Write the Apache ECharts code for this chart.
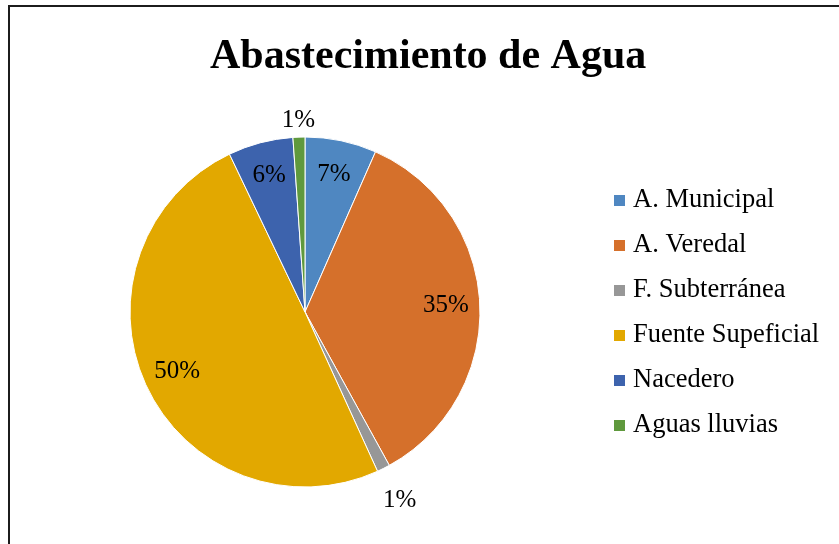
<!DOCTYPE html>
<html>
<head>
<meta charset="utf-8">
<script src="https://cdn.jsdelivr.net/npm/echarts@6/dist/echarts.min.js"></script>
<style>
html,body{margin:0;padding:0;background:#fff;}
#frame{position:absolute;left:8px;top:5px;width:860px;height:580px;border:2px solid #1c1c1c;box-sizing:border-box;}
#chart{position:absolute;left:0;top:0;width:839px;height:544px;}
</style>
</head>
<body>
<div id="frame"></div>
<div id="chart"></div>
<script>
const categories = ['A. Municipal','A. Veredal','F. Subterránea','Fuente Supeficial','Nacedero','Aguas lluvias'];
const values = [6.6, 35.4, 1.2, 49.7, 6.0, 1.1];
const colors = ['#4F87C1','#D5702B','#979797','#E2A800','#3D63AD','#5F993D'];
const insideLabel = [true, true, false, true, true, false];

const font = 'Liberation Serif, Times New Roman, serif';
const chart = echarts.init(document.getElementById('chart'));
const center = [305, 312];
const fmt = p => Math.round(p.value) + '%';

function overlay(radius, showFn) {
  return {
    type: 'pie', radius: radius, center: center, startAngle: 90, clockwise: true,
    silent: true, animation: false, legendHoverLink: false,
    itemStyle: { color: 'rgba(0,0,0,0)', borderWidth: 0 },
    labelLine: { show: false },
    emphasis: { disabled: true },
    data: categories.map((c, i) => ({
      name: c, value: values[i],
      label: { show: showFn(i), position: 'inside', formatter: fmt, color: '#000',
               fontFamily: font, fontSize: 25 }
    }))
  };
}

chart.setOption({
  animation: false,
  title: {
    text: 'Abastecimiento de Agua', left: 210, top: 36, padding: 0,
    textStyle: { fontFamily: font, fontSize: 42, fontWeight: 'bold', color: '#000' }
  },
  legend: {
    orient: 'vertical', left: 612, top: 187, padding: 0,
    itemWidth: 13, itemHeight: 13, itemGap: 18, icon: 'rect',
    textStyle: { fontFamily: font, fontSize: 26.5, color: '#000', lineHeight: 26, padding: [0,0,0,2] },
    data: categories.map((c, i) => ({ name: c, itemStyle: { color: colors[i] } })),
    selectedMode: false
  },
  series: [
    {
      type: 'pie', radius: 175, center: center, startAngle: 90, clockwise: true,
      silent: true,
      label: { show: false }, labelLine: { show: false },
      itemStyle: { borderColor: '#fff', borderWidth: 1 },
      emphasis: { disabled: true },
      data: categories.map((c, i) => ({ name: c, value: values[i], itemStyle: { color: colors[i] } }))
    },
    overlay([101, 175], i => insideLabel[i]),
    overlay([175, 203], i => i === 5),
    overlay([175, 241], i => i === 2)
  ]
});
</script>
</body>
</html>
